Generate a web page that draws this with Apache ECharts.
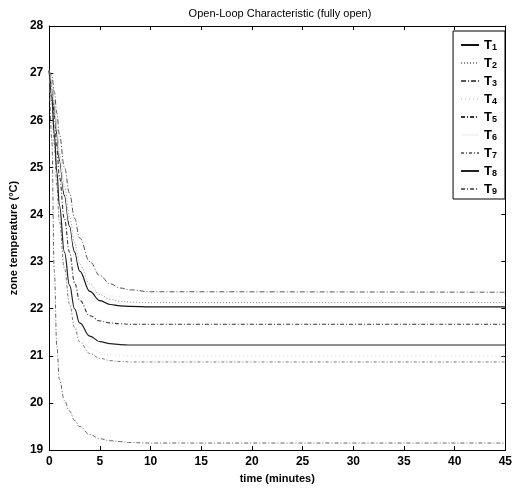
<!DOCTYPE html>
<html>
<head>
<meta charset="utf-8">
<script src="https://cdn.jsdelivr.net/npm/echarts@6/dist/echarts.min.js"></script>
<style>
  html, body { margin: 0; padding: 0; background: #fff; }
  #chart { width: 515px; height: 489px; }
</style>
</head>
<body>
<div id="chart"></div>
<script>
// time samples (minutes)
const times = [0, 0.25, 0.5, 0.75, 1, 1.5, 2, 2.5, 3, 4, 5, 6, 7, 8, 10, 45]

// zone temperatures
const T1 = [27.05, 26.8, 26.3, 25.7, 25.15, 24.4, 23.75, 23.2, 22.8, 22.37, 22.17, 22.09, 22.06, 22.05, 22.04, 22.04]
const T2 = [27.05, 26.85, 26.4, 25.85, 25.3, 24.6, 23.95, 23.4, 22.95, 22.52, 22.3, 22.2, 22.16, 22.14, 22.13, 22.13]
const T3 = [27.05, 26.95, 26.6, 26.15, 25.7, 25.0, 24.45, 23.92, 23.5, 23.0, 22.7, 22.53, 22.44, 22.4, 22.36, 22.35]
const T4 = [27.05, 26.4, 25.5, 24.6, 23.87, 22.9, 22.17, 21.7, 21.4, 21.17, 21.07, 21.03, 21.01, 21.0, 21.0, 21.0]
const T5 = [27.05, 26.7, 26.1, 25.4, 24.8, 23.9, 23.2, 22.55, 22.18, 21.85, 21.74, 21.7, 21.68, 21.67, 21.67, 21.67]
const T6 = [27.05, 26.8, 26.35, 25.8, 25.25, 24.5, 23.85, 23.3, 22.9, 22.5, 22.33, 22.27, 22.25, 22.24, 22.23, 22.23]
const T7 = [27.05, 26.4, 25.5, 24.6, 23.85, 22.85, 22.1, 21.6, 21.3, 21.05, 20.95, 20.9, 20.88, 20.87, 20.87, 20.87]
const T8 = [27.05, 26.5, 25.7, 24.9, 24.2, 23.2, 22.5, 22.0, 21.7, 21.42, 21.3, 21.26, 21.24, 21.23, 21.23, 21.23]
const T9 = [27.05, 25.6, 22.8, 21.2, 20.5, 20.05, 19.83, 19.63, 19.5, 19.33, 19.24, 19.2, 19.18, 19.16, 19.15, 19.15]

const names = ['T1', 'T2', 'T3', 'T4', 'T5', 'T6', 'T7', 'T8', 'T9']
const values = [T1, T2, T3, T4, T5, T6, T7, T8, T9]
const xTicks = [0, 5, 10, 15, 20, 25, 30, 35, 40, 45]
const yTicks = [19, 20, 21, 22, 23, 24, 25, 26, 27, 28]

const styles = [
	{ color: '#111', type: 'solid', width: 1.2 },
	{ color: '#888', type: [1, 2], width: 1 },
	{ color: '#555', type: [5, 2, 1, 2], width: 1 },
	{ color: '#d8d8d8', type: [1, 3], width: 1 },
	{ color: '#333', type: [4, 2, 1, 2], width: 1.1 },
	{ color: '#f4f4f4', type: 'solid', width: 1 },
	{ color: '#777', type: [3, 2, 1, 2], width: 1 },
	{ color: '#222', type: 'solid', width: 1.2 },
	{ color: '#666', type: [4, 2, 1, 2], width: 1 }
]

const font = 'Liberation Sans Narrow, Liberation Sans, Arial'

const chart = echarts.init(document.getElementById('chart'))
const axisCommon = {
	type: 'value',
	axisLine: { show: true, onZero: false, lineStyle: { color: '#000', width: 1 } },
	axisTick: { show: true, inside: true, length: 4, lineStyle: { color: '#000' } },
	splitLine: { show: false }
}
const option = {
	animation: false,
	backgroundColor: '#fff',
	title: {
		text: 'Open-Loop Characteristic (fully open)',
		left: 275,
		textAlign: 'center',
		top: 3,
		textStyle: { fontFamily: font, fontSize: 11, fontWeight: 'normal', color: '#000' }
	},
	legend: {
		data: names,
		orient: 'vertical',
		right: 10,
		top: 31,
		padding: [6, 8, 3, 7],
		itemWidth: 18,
		itemHeight: 14,
		itemGap: 3,
		itemStyle: { opacity: 0 },
		backgroundColor: '#fff',
		borderColor: '#000',
		borderWidth: 1,
		formatter: name => '{a|T}{b|' + name.slice(1) + '}',
		textStyle: {
			rich: {
				a: { fontFamily: font, fontSize: 13, fontWeight: 'bold', color: '#000', lineHeight: 14 },
				b: { fontFamily: font, fontSize: 9, fontWeight: 'bold', color: '#000', lineHeight: 14, verticalAlign: 'bottom', padding: [6, 0, 0, 0] }
			}
		}
	},
	grid: { left: 45, right: 6, top: 26, bottom: 36, containLabel: false },
	xAxis: [
		Object.assign({}, axisCommon, {
			min: 0, max: 45, interval: 5,
			name: 'time (minutes)',
			nameLocation: 'middle',
			nameGap: 21,
			nameTextStyle: { fontFamily: font, fontSize: 11, fontWeight: 'bold', color: '#000' },
			axisLabel: { fontFamily: font, fontSize: 12, fontWeight: 'bold', color: '#000', margin: 6,
				customValues: xTicks }
		}),
		Object.assign({}, axisCommon, {
			position: 'top', min: 0, max: 45, interval: 5,
			axisLabel: { show: false }
		})
	],
	yAxis: [
		Object.assign({}, axisCommon, {
			min: 19, max: 28, interval: 1,
			name: 'zone temperature (°C)',
			nameLocation: 'middle',
			nameGap: 24,
			nameTextStyle: { fontFamily: font, fontSize: 11, fontWeight: 'bold', color: '#000' },
			axisLabel: { fontFamily: font, fontSize: 12, fontWeight: 'bold', color: '#000', margin: 6,
				customValues: yTicks }
		}),
		Object.assign({}, axisCommon, {
			position: 'right', min: 19, max: 28, interval: 1,
			axisLabel: { show: false }
		})
	],
	series: names.map((n, i) => ({
		name: n,
		type: 'line',
		data: times.map((t, k) => [t, values[i][k]]),
		showSymbol: false,
		smooth: 0.4,
		smoothMonotone: 'x',
		lineStyle: styles[i],
		itemStyle: { color: styles[i].color }
	}))
}
chart.setOption(option)
</script>
</body>
</html>
